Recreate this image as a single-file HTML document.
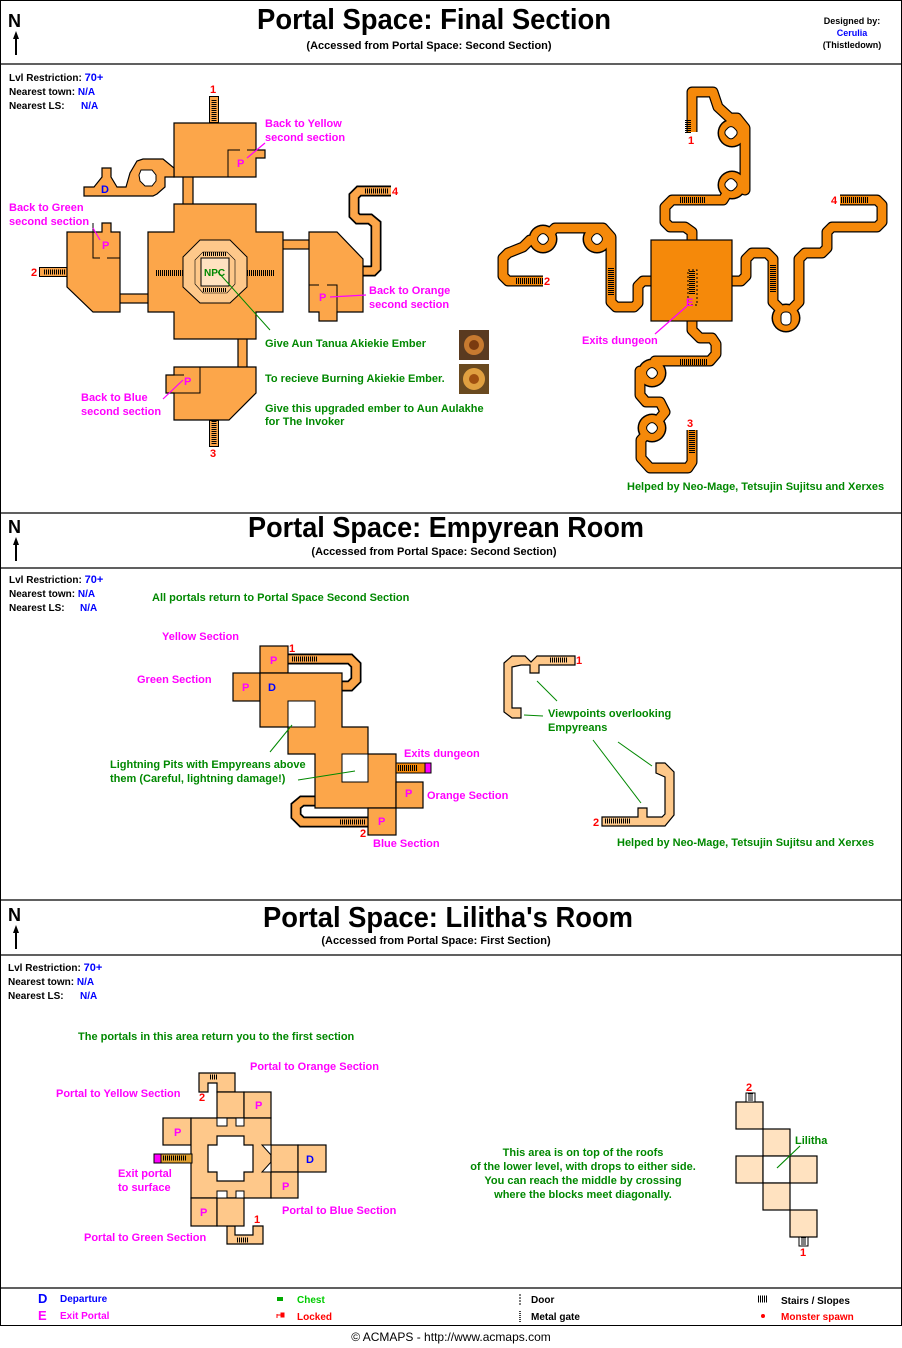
<!DOCTYPE html>
<html><head><meta charset="utf-8"><style>
html,body{margin:0;padding:0;background:#fff}
svg{display:block}
text{font-family:"Liberation Sans",Arial,sans-serif;font-weight:bold;font-size:11px}
.m{fill:#f0f}.g{fill:#080}.b{fill:#00f}.r{fill:#f00}.k{fill:#000}
.lo{fill:#FCA64A;stroke:#000;stroke-width:1.2}
.pe{fill:#FEC88A;stroke:#000;stroke-width:1.2}
.li{fill:#FFE2C0;stroke:#000;stroke-width:1.2}
.cb{fill:none;stroke:#000;stroke-width:11;stroke-linejoin:round}
.co{fill:none;stroke:#F5890A;stroke-width:8.6;stroke-linejoin:round}
.cl{fill:none;stroke:#FCA64A;stroke-width:7.6;stroke-linejoin:miter}
.st{stroke:#000;stroke-dasharray:1 1}
.tt{font-size:29px}
</style></head><body>
<svg width="902" height="1348" viewBox="0 0 902 1348" xmlns="http://www.w3.org/2000/svg">
<rect x="0.5" y="0.5" width="901" height="1325" fill="none" stroke="#000"/>
<g stroke="#000" stroke-width="1.2">
<line x1="0" y1="64" x2="902" y2="64"/><line x1="0" y1="513" x2="902" y2="513"/>
<line x1="0" y1="568" x2="902" y2="568"/><line x1="0" y1="900" x2="902" y2="900"/>
<line x1="0" y1="955" x2="902" y2="955"/><line x1="0" y1="1288" x2="902" y2="1288"/>
</g>
<g>
<text x="8" y="27" style="font-size:18px">N</text><path d="M16,31 L13,39 L15,39 L15,55 L17,55 L17,39 L19,39Z" fill="#000"/>
<text x="8" y="533" style="font-size:18px">N</text><path d="M16,537 L13,545 L15,545 L15,561 L17,561 L17,545 L19,545Z" fill="#000"/>
<text x="8" y="921" style="font-size:18px">N</text><path d="M16,925 L13,933 L15,933 L15,949 L17,949 L17,933 L19,933Z" fill="#000"/>
</g>
<text x="257" y="29" class="tt" textLength="354" lengthAdjust="spacingAndGlyphs">Portal Space: Final Section</text>
<text x="429" y="49" text-anchor="middle" style="font-size:11px">(Accessed from Portal Space: Second Section)</text>
<text x="852" y="24" text-anchor="middle" style="font-size:9px">Designed by:</text>
<text x="852" y="36" text-anchor="middle" class="b" style="font-size:9px">Cerulia</text>
<text x="852" y="48" text-anchor="middle" style="font-size:9px">(Thistledown)</text>
<text x="248" y="537" class="tt" textLength="396" lengthAdjust="spacingAndGlyphs">Portal Space: Empyrean Room</text>
<text x="434" y="555" text-anchor="middle">(Accessed from Portal Space: Second Section)</text>
<text x="263" y="927" class="tt" textLength="370" lengthAdjust="spacingAndGlyphs">Portal Space: Lilitha's Room</text>
<text x="436" y="944" text-anchor="middle">(Accessed from Portal Space: First Section)</text>
<g style="font-size:10px">
<text x="9" y="81" style="font-size:10px">Lvl Restriction: <tspan class="b" style="font-size:11px">70+</tspan></text>
<text x="9" y="95" style="font-size:10px">Nearest town: <tspan class="b">N/A</tspan></text>
<text x="9" y="109" style="font-size:10px">Nearest LS:  <tspan class="b" x="81">N/A</tspan></text>
<text x="9" y="583" style="font-size:10px">Lvl Restriction: <tspan class="b" style="font-size:11px">70+</tspan></text>
<text x="9" y="597" style="font-size:10px">Nearest town: <tspan class="b">N/A</tspan></text>
<text x="9" y="611" style="font-size:10px">Nearest LS: <tspan class="b" x="80">N/A</tspan></text>
<text x="8" y="971" style="font-size:10px">Lvl Restriction: <tspan class="b" style="font-size:11px">70+</tspan></text>
<text x="8" y="985" style="font-size:10px">Nearest town: <tspan class="b">N/A</tspan></text>
<text x="8" y="999" style="font-size:10px">Nearest LS: <tspan class="b" x="80">N/A</tspan></text>
</g>

<!-- FINAL LEFT -->
<line x1="214" y1="96" x2="214" y2="123" stroke="#000" stroke-width="10"/>
<line x1="214" y1="97" x2="214" y2="122" stroke="#FCA64A" stroke-width="8"/>
<line x1="214" y1="100" x2="214" y2="122" class="st" stroke-width="5"/>
<line x1="214" y1="420" x2="214" y2="447" stroke="#000" stroke-width="10"/>
<line x1="214" y1="421" x2="214" y2="446" stroke="#FCA64A" stroke-width="8"/>
<line x1="214" y1="421" x2="214" y2="444" class="st" stroke-width="5"/>
<line x1="39" y1="272" x2="67" y2="272" stroke="#000" stroke-width="10"/>
<line x1="40" y1="272" x2="67" y2="272" stroke="#FCA64A" stroke-width="8"/>
<line x1="44" y1="272" x2="66" y2="272" class="st" stroke-width="5"/>
<path class="cb" style="stroke-linejoin:miter" d="M363,271 L373,271 L376,268 L376,224 L370,219 L358,219 L354,215 L354,196 L359,191 L391,191"/>
<path class="cl" d="M362,271 L373,271 L376,268 L376,224 L370,219 L358,219 L354,215 L354,196 L359,191 L391,191"/>
<line x1="365" y1="191" x2="389" y2="191" class="st" stroke-width="5"/>
<rect x="183" y="176" width="10" height="30" class="lo"/>
<rect x="238" y="338" width="9" height="30" class="lo"/>
<rect x="119" y="294" width="30" height="9" class="lo"/>
<rect x="282" y="240" width="28" height="9" class="lo"/>
<polygon class="lo" points="174,123 256,123 256,150 265,150 265,158 256,158 256,177 174,177"/>
<polygon class="lo" points="84,196 84,187 94,187 102,177 102,168 111,168 111,177 117,187 126,187 130,173 137,161 143,159 163,159 174,168 174,177 165,177 165,187 157,194 153,196"/>
<polygon points="141,170 152,170 156,175 156,181 152,186 145,186 140,181 139,175" fill="#fff" stroke="#000"/>
<polygon class="lo" points="174,204 256,204 256,232 283,232 283,312 256,312 256,339 174,339 174,312 148,312 148,232 174,232"/>
<polygon class="lo" points="67,232 102,232 102,223 111,223 111,232 120,232 120,312 93,312 67,287"/>
<polygon class="lo" points="309,232 337,232 363,259 363,312 337,312 337,321 319,321 319,312 309,312"/>
<polygon class="lo" points="174,367 256,367 256,393 229,420 174,420 174,393 166,393 166,375 174,375"/>
<g fill="none" stroke="#000" stroke-width="1">
<path d="M240,177 L228,177 L228,150 L240,150 M247,150 L256,150"/>
<path d="M93,223 L93,258 L100,258 M107,258 L120,258"/>
<path d="M309,285 L319,285 M327,285 L337,285 L337,312"/>
<path d="M174,393 L200,393 L200,367 M174,375 L184,375"/>
</g>
<polygon points="200,240 230,240 247,257 247,287 230,303 200,303 183,287 183,257" fill="#FEC88A" stroke="#000"/>
<polygon points="203,252 227,252 235,260 235,284 227,293 203,293 195,284 195,260" fill="#FEC88A" stroke="#000" stroke-width="0.6"/>
<rect x="201" y="258" width="28" height="28" fill="#FFE2C0" stroke="#000"/>
<line x1="156" y1="273" x2="183" y2="273" class="st" stroke-width="6"/>
<line x1="247" y1="273" x2="274" y2="273" class="st" stroke-width="6"/>
<line x1="203" y1="254" x2="227" y2="254" class="st" stroke-width="4"/>
<line x1="203" y1="290" x2="227" y2="290" class="st" stroke-width="4"/>
<text x="204" y="276" class="g" style="font-size:10px">NPC</text>
<text x="101" y="193" class="b" style="font-size:11px">D</text>
<text x="237" y="167" class="m">P</text><text x="102" y="249" class="m">P</text>
<text x="319" y="301" class="m">P</text><text x="184" y="385" class="m">P</text>
<line x1="218" y1="272" x2="270" y2="330" stroke="#080"/>
<g stroke="#f0f" stroke-width="1.2">
<line x1="247" y1="158" x2="265" y2="143"/><line x1="100" y1="240" x2="93" y2="228"/>
<line x1="330" y1="297" x2="366" y2="295"/><line x1="183" y1="380" x2="163" y2="399"/>
</g>
<text x="210" y="93" class="r">1</text><text x="31" y="276" class="r">2</text>
<text x="210" y="457" class="r">3</text><text x="392" y="195" class="r">4</text>
<text x="265" y="127" class="m">Back to Yellow</text><text x="265" y="141" class="m">second section</text>
<text x="9" y="211" class="m">Back to Green</text><text x="9" y="225" class="m">second section</text>
<text x="369" y="294" class="m">Back to Orange</text><text x="369" y="308" class="m">second section</text>
<text x="81" y="401" class="m">Back to Blue</text><text x="81" y="415" class="m">second section</text>
<text x="265" y="347" class="g">Give Aun Tanua Akiekie Ember</text>
<text x="265" y="382" class="g">To recieve Burning Akiekie Ember.</text>
<text x="265" y="412" class="g">Give this upgraded ember to Aun Aulakhe</text>
<text x="265" y="425" class="g">for The Invoker</text>
<rect x="459" y="330" width="30" height="30" fill="#5a3a20"/><circle cx="474" cy="345" r="10" fill="#c77a30"/><circle cx="474" cy="345" r="5" fill="#7a3a10"/>
<rect x="459" y="364" width="30" height="30" fill="#6a4a20"/><circle cx="474" cy="379" r="11" fill="#e0a040"/><circle cx="474" cy="379" r="5" fill="#a05010"/>

<!-- FINAL RIGHT -->
<g>
<path class="cb" d="M692,240 L692,232 L685,227 L670,227 L665,222 L665,207 L672,200 L723,200 L732,185 L745,190 L745,128 L737,118 L730,118 L718,107 L713,92 L692,92 L692,132"/>
<path class="cb" d="M651,281 L643,281 L638,286 L638,303 L634,307 L616,307 L611,302 L611,237 L603,228 L597,228 L585,228 L555,228 L543,240 L530,240 L523,247 L508,253 L503,258 L503,276 L508,281 L543,281"/>
<path class="cb" d="M692,321 L692,330 L700,338 L712,338 L716,344 L716,354 L710,361 L655,361 L652,373 L640,371 L640,395 L646,402 L660,402 L665,412 L652,428 L641,440 L641,458 L650,468 L688,468 L692,462 L692,430"/>
<path class="cb" d="M732,281 L741,281 L746,276 L746,259 L752,253 L767,253 L773,259 L773,302 L779,308 L786,318 L793,308 L799,302 L799,259 L805,253 L822,253 L827,248 L827,232 L832,227 L877,227 L882,222 L882,205 L877,200 L840,200"/>
<g fill="#000">
<circle cx="732" cy="185" r="14.5"/><circle cx="732" cy="133" r="14.5"/>
<circle cx="597" cy="239" r="14.5"/><circle cx="543" cy="239" r="14.5"/>
<circle cx="652" cy="373" r="14.5"/><circle cx="652" cy="428" r="14.5"/>
<circle cx="786" cy="318" r="14.5"/>
</g>
<path class="co" d="M692,241 L692,232 L685,227 L670,227 L665,222 L665,207 L672,200 L723,200 L732,185 L745,190 L745,128 L737,118 L730,118 L718,107 L713,92 L692,92 L692,132"/>
<path class="co" d="M652,281 L643,281 L638,286 L638,303 L634,307 L616,307 L611,302 L611,237 L603,228 L597,228 L585,228 L555,228 L543,240 L530,240 L523,247 L508,253 L503,258 L503,276 L508,281 L543,281"/>
<path class="co" d="M692,320 L692,330 L700,338 L712,338 L716,344 L716,354 L710,361 L655,361 L652,373 L640,371 L640,395 L646,402 L660,402 L665,412 L652,428 L641,440 L641,458 L650,468 L688,468 L692,462 L692,430"/>
<path class="co" d="M731,281 L741,281 L746,276 L746,259 L752,253 L767,253 L773,259 L773,302 L779,308 L786,318 L793,308 L799,302 L799,259 L805,253 L822,253 L827,248 L827,232 L832,227 L877,227 L882,222 L882,205 L877,200 L840,200"/>
<g fill="#F5890A">
<circle cx="732" cy="185" r="13"/><circle cx="732" cy="133" r="13"/>
<circle cx="597" cy="239" r="13"/><circle cx="543" cy="239" r="13"/>
<circle cx="652" cy="373" r="13"/><circle cx="652" cy="428" r="13"/>
<circle cx="786" cy="318" r="13"/>
</g>
<g fill="#fff" stroke="#000">
<rect x="726" y="179" width="11" height="11" rx="4" transform="rotate(45 731 184)"/>
<rect x="726" y="127" width="11" height="11" rx="4" transform="rotate(45 731 132)"/>
<rect x="592" y="234" width="10" height="10" rx="4" transform="rotate(45 597 239)"/>
<rect x="538" y="234" width="10" height="10" rx="4" transform="rotate(45 543 239)"/>
<rect x="647" y="368" width="10" height="10" rx="4" transform="rotate(45 652 373)"/>
<rect x="647" y="423" width="10" height="10" rx="4" transform="rotate(45 652 428)"/>
<rect x="781" y="312" width="10" height="13" rx="4"/>
</g>
<rect x="651" y="240" width="81" height="81" fill="#F5890A" stroke="#000" stroke-width="1.2"/>
<line x1="688" y1="120" x2="688" y2="133" class="st" stroke-width="6"/>
<line x1="680" y1="200" x2="705" y2="200" class="st" stroke-width="6"/>
<line x1="516" y1="281" x2="543" y2="281" class="st" stroke-width="6"/>
<line x1="611" y1="268" x2="611" y2="295" class="st" stroke-width="6"/>
<line x1="680" y1="362" x2="707" y2="362" class="st" stroke-width="6"/>
<line x1="692" y1="430" x2="692" y2="453" class="st" stroke-width="6"/>
<line x1="773" y1="265" x2="773" y2="292" class="st" stroke-width="6"/>
<line x1="841" y1="200" x2="868" y2="200" class="st" stroke-width="6"/>
<line x1="692" y1="271" x2="692" y2="295" class="st" stroke-width="6"/>
<rect x="688" y="270" width="9" height="35" fill="none" stroke="#000" stroke-dasharray="2 2"/>
<text x="686" y="306" class="m">E</text>
<line x1="687" y1="306" x2="655" y2="334" stroke="#f0f" stroke-width="1.2"/>
</g>
<text x="688" y="144" class="r">1</text><text x="544" y="285" class="r">2</text>
<text x="687" y="427" class="r">3</text><text x="831" y="204" class="r">4</text>
<text x="582" y="344" class="m">Exits dungeon</text>
<text x="627" y="490" class="g">Helped by Neo-Mage, Tetsujin Sujitsu and Xerxes</text>

<!-- EMPYREAN -->
<path class="cb" style="stroke-linejoin:miter" d="M288,659 L350,659 L356,665 L356,680 L350,686 L341,686"/>
<path class="cl" d="M287,659 L350,659 L356,665 L356,680 L350,686 L340,686"/>
<path class="cb" style="stroke-linejoin:miter" d="M369,822 L302,822 L296,816 L296,806 L302,801 L316,801"/>
<path class="cl" d="M370,822 L302,822 L296,816 L296,806 L302,801 L317,801"/>
<line x1="292" y1="659" x2="318" y2="659" class="st" stroke-width="5"/>
<line x1="340" y1="822" x2="366" y2="822" class="st" stroke-width="5"/>
<rect x="260" y="646" width="28" height="27" class="lo"/>
<rect x="233" y="673" width="27" height="28" class="lo"/>
<polygon class="lo" points="260,673 342,673 342,727 368,727 368,754 396,754 396,808 315,808 315,754 288,754 288,727 260,727"/>
<rect x="288" y="701" width="27" height="26" fill="#fff" stroke="#000"/>
<rect x="342" y="754" width="26" height="28" fill="#fff" stroke="#000"/>
<rect x="396" y="782" width="27" height="26" class="lo"/>
<rect x="368" y="808" width="28" height="27" class="lo"/>
<rect x="396" y="763" width="35" height="10" fill="#F5890A" stroke="#000"/>
<rect x="425" y="763" width="6" height="10" fill="#f0f" stroke="#000"/>
<line x1="398" y1="768" x2="418" y2="768" class="st" stroke-width="6"/>
<text x="270" y="664" class="m">P</text><text x="242" y="691" class="m">P</text>
<text x="268" y="691" class="b">D</text><text x="405" y="797" class="m">P</text>
<text x="378" y="825" class="m">P</text>
<polygon class="pe" points="504,663 512,656 525,656 531,662 537,656 575,656 575,665 539,665 539,673 530,673 530,665 521,665 512,667 512,708 521,708 521,718 512,718 504,712"/>
<polygon class="pe" points="656,763 665,763 674,772 674,815 665,826 602,826 602,817 638,817 638,808 647,808 647,817 662,817 665,814 665,777 656,773"/>
<line x1="550" y1="660" x2="568" y2="660" class="st" stroke-width="5"/>
<line x1="605" y1="821" x2="630" y2="821" class="st" stroke-width="5"/>
<g stroke="#080">
<line x1="270" y1="752" x2="292" y2="725"/><line x1="298" y1="780" x2="355" y2="771"/>
<line x1="537" y1="681" x2="557" y2="701"/><line x1="524" y1="715" x2="543" y2="716"/>
<line x1="593" y1="740" x2="641" y2="803"/><line x1="618" y1="742" x2="652" y2="766"/>
</g>
<text x="289" y="652" class="r">1</text><text x="360" y="837" class="r">2</text>
<text x="576" y="664" class="r">1</text><text x="593" y="826" class="r">2</text>
<text x="152" y="601" class="g">All portals return to Portal Space Second Section</text>
<text x="162" y="640" class="m">Yellow Section</text>
<text x="137" y="683" class="m">Green Section</text>
<text x="404" y="757" class="m">Exits dungeon</text>
<text x="427" y="799" class="m">Orange Section</text>
<text x="373" y="847" class="m">Blue Section</text>
<text x="110" y="768" class="g">Lightning Pits with Empyreans above</text>
<text x="110" y="782" class="g">them (Careful, lightning damage!)</text>
<text x="548" y="717" class="g">Viewpoints overlooking</text>
<text x="548" y="731" class="g">Empyreans</text>
<text x="617" y="846" class="g">Helped by Neo-Mage, Tetsujin Sujitsu and Xerxes</text>

<!-- LILITHA -->
<polygon class="pe" points="199,1073 235,1073 235,1092 217,1092 217,1083 208,1083 208,1092 199,1092"/>
<polygon class="pe" points="227,1226 235,1226 235,1235 253,1235 253,1226 263,1226 263,1244 227,1244"/>
<rect x="217" y="1092" width="27" height="26" class="pe"/>
<rect x="244" y="1092" width="27" height="26" class="pe"/>
<rect x="163" y="1118" width="28" height="27" class="pe"/>
<polygon class="pe" points="191,1118 271,1118 271,1198 191,1198"/>
<polygon points="217,1136 244,1136 244,1145 253,1145 253,1172 244,1172 244,1181 217,1181 217,1172 208,1172 208,1145 217,1145" fill="#fff" stroke="#000" stroke-width="1.2"/>
<rect x="271" y="1145" width="27" height="27" class="pe"/>
<rect x="298" y="1145" width="28" height="27" class="pe"/>
<rect x="271" y="1172" width="27" height="26" class="pe"/>
<rect x="191" y="1198" width="26" height="28" class="pe"/>
<rect x="217" y="1198" width="27" height="28" class="pe"/>
<g fill="#fff" stroke="#000">
<polygon points="217,1118 227,1118 227,1126 217,1126"/><polygon points="236,1118 244,1118 244,1126 236,1126"/>
<polygon points="217,1191 227,1191 227,1198 217,1198"/><polygon points="236,1191 244,1191 244,1198 236,1198"/>
<polygon points="262,1145 271,1145 271,1155"/><polygon points="262,1172 271,1172 271,1162"/>
</g>
<rect x="154" y="1154" width="38" height="9" fill="#E0A030" stroke="#000"/>
<rect x="154" y="1154" width="7" height="9" fill="#f0f" stroke="#000"/>
<line x1="163" y1="1158" x2="186" y2="1158" class="st" stroke-width="5"/>
<line x1="210" y1="1077" x2="218" y2="1077" class="st" stroke-width="5"/>
<line x1="237" y1="1240" x2="249" y2="1240" class="st" stroke-width="5"/>
<text x="174" y="1136" class="m">P</text><text x="255" y="1109" class="m">P</text>
<text x="306" y="1163" class="b">D</text><text x="282" y="1190" class="m">P</text>
<text x="200" y="1216" class="m">P</text>
<text x="199" y="1101" class="r">2</text><text x="254" y="1223" class="r">1</text>
<text x="250" y="1070" class="m">Portal to Orange Section</text>
<text x="56" y="1097" class="m">Portal to Yellow Section</text>
<text x="118" y="1177" class="m">Exit portal</text><text x="118" y="1191" class="m">to surface</text>
<text x="282" y="1214" class="m">Portal to Blue Section</text>
<text x="84" y="1241" class="m">Portal to Green Section</text>
<text x="78" y="1040" class="g">The portals in this area return you to the first section</text>
<g class="g" text-anchor="middle">
<text x="583" y="1156">This area is on top of the roofs</text>
<text x="583" y="1170">of the lower level, with drops to either side.</text>
<text x="583" y="1184">You can reach the middle by crossing</text>
<text x="583" y="1198">where the blocks meet diagonally.</text>
</g>
<rect x="736" y="1102" width="27" height="27" class="li"/>
<rect x="763" y="1129" width="27" height="27" class="li"/>
<rect x="736" y="1156" width="27" height="27" class="li"/>
<rect x="763" y="1156" width="27" height="27" fill="#fff" stroke="#000" stroke-width="1.2"/>
<rect x="790" y="1156" width="27" height="27" class="li"/>
<rect x="763" y="1183" width="27" height="27" class="li"/>
<rect x="790" y="1210" width="27" height="27" class="li"/>
<rect x="746" y="1093" width="9" height="9" fill="#fff" stroke="#000"/>
<rect x="799" y="1237" width="9" height="9" fill="#fff" stroke="#000"/>
<line x1="747" y1="1097" x2="754" y2="1097" stroke="#000" stroke-width="5" stroke-dasharray="1 1" transform="rotate(90 750.5 1097)"/>
<line x1="800" y1="1241" x2="807" y2="1241" stroke="#000" stroke-width="5" stroke-dasharray="1 1" transform="rotate(90 803.5 1241)"/>
<line x1="777" y1="1168" x2="800" y2="1146" stroke="#080" stroke-width="1.2"/>
<text x="795" y="1144" class="g">Lilitha</text>
<text x="746" y="1091" class="r">2</text><text x="800" y="1256" class="r">1</text>

<!-- LEGEND -->
<text x="38" y="1303" class="b" style="font-size:13px">D</text>
<text x="60" y="1302" class="b" style="font-size:10px">Departure</text>
<text x="38" y="1320" class="m" style="font-size:13px">E</text>
<text x="60" y="1319" class="m" style="font-size:10px">Exit Portal</text>
<rect x="277" y="1297" width="6" height="4" fill="#0a0"/>
<text x="297" y="1303" style="font-size:10px;fill:#0c0">Chest</text>
<path d="M277,1314 L277,1318 M277,1315 L281,1315 M281,1313 L284,1313 L284,1317 L281,1317Z" stroke="#f00" fill="#f00"/>
<text x="297" y="1320" class="r" style="font-size:10px">Locked</text>
<line x1="520" y1="1294" x2="520" y2="1305" stroke="#000" stroke-dasharray="2 1"/>
<text x="531" y="1303" style="font-size:10px">Door</text>
<line x1="520" y1="1311" x2="520" y2="1323" stroke="#000" stroke-width="1.5" stroke-dasharray="1 1"/>
<text x="531" y="1320" style="font-size:10px">Metal gate</text>
<line x1="758" y1="1299" x2="767" y2="1299" stroke="#000" stroke-width="7" stroke-dasharray="1 1"/>
<text x="781" y="1304" style="font-size:10px">Stairs / Slopes</text>
<circle cx="763" cy="1316" r="2" fill="#f00"/>
<text x="781" y="1320" class="r" style="font-size:10px">Monster spawn</text>
<text x="451" y="1341" text-anchor="middle" style="font-weight:normal;font-size:12px">© ACMAPS - http://www.acmaps.com</text>
</svg>
</body></html>
